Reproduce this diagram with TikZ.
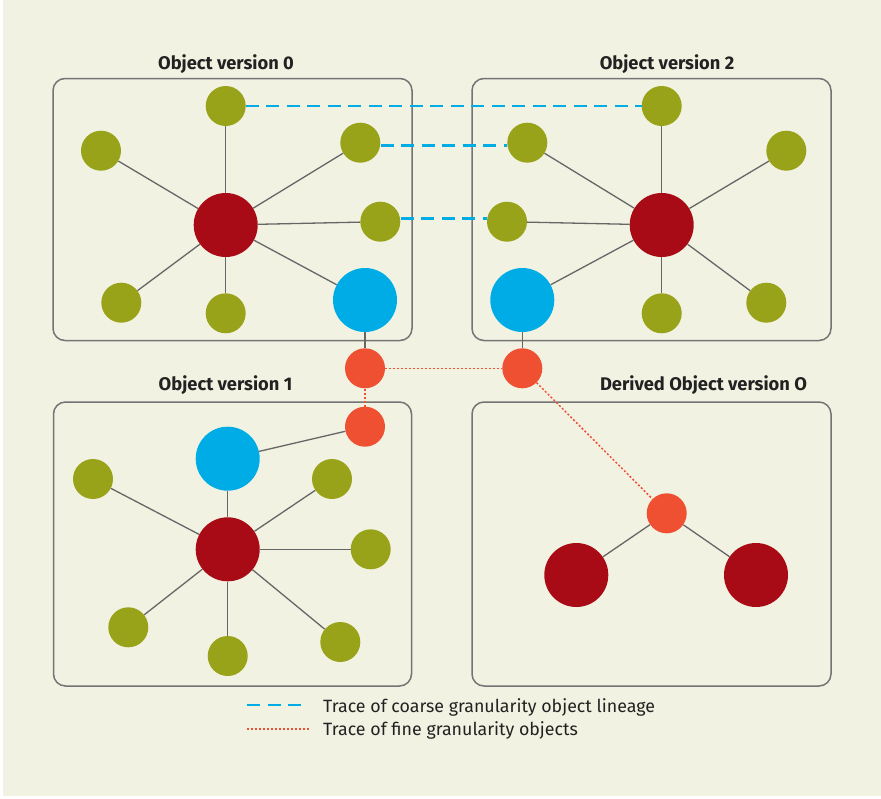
\documentclass[tikz,border=0pt]{standalone}
\usepackage{fontspec}
\setmainfont{Fira Sans}
\usetikzlibrary{calc}
\definecolor{paper}{HTML}{F2F2E3}
\definecolor{olive}{HTML}{98A319}
\definecolor{wine}{HTML}{A90B16}
\definecolor{sky}{HTML}{00ACE5}
\definecolor{tomato}{HTML}{EF5032}
\definecolor{frame}{HTML}{747474}
\definecolor{link}{HTML}{666666}
\definecolor{ink}{HTML}{222222}
\tikzset{
  dot/.style={circle, inner sep=0pt, draw=none},
  leaf/.style={dot, fill=olive, minimum size=40pt},
  hub/.style={dot, fill=wine, minimum size=64pt},
  root/.style={dot, fill=sky, minimum size=64pt},
  grain/.style={dot, fill=tomato, minimum size=40pt},
  panel/.style={draw=frame, line width=1.5pt, rounded corners=12pt, inner sep=0pt},
  title/.style={font=\bfseries\fontsize{18.3}{21}\selectfont, text=ink},
  edge/.style={draw=link, line width=1.3pt},
  coarse/.style={draw=sky, line width=2.6pt, dash pattern=on 13pt off 7.5pt},
  fine/.style={draw=tomato, line width=1.5pt, dash pattern=on 2pt off 2pt},
  legend/.style={font=\fontsize{17.8}{21}\selectfont, text=ink, anchor=west, inner sep=0pt}
}
\begin{document}
\begin{tikzpicture}[x=1pt, y=-1pt]
\useasboundingbox (0,0) rectangle (881,798);
\fill[white] (0,0) rectangle (881,798);
\fill[paper] (3,0) rectangle (881,796);

% panels
\node[panel, minimum width=359pt, minimum height=262pt] (pA) at (232.5,209.5) {};
\node[panel, minimum width=359pt, minimum height=262pt] (pB) at (651.5,209.5) {};
\node[panel, minimum width=358pt, minimum height=284pt] (pC) at (232.5,544) {};
\node[panel, minimum width=359pt, minimum height=284pt] (pD) at (651.5,544) {};

% panel titles
\node[title] (tA) at (226,64) {Object version 0};
\node[title] (tB) at (667,64) {Object version 2};
\node[title] (tC) at (225.5,385) {Object version 1};
\node[title] (tD) at (703.5,385) {Derived Object version O};

% version 0
\node[hub]  (a0) at (225.7,225) {};
\node[leaf] (a1) at (225.7,106) {};
\node[leaf] (a2) at (101,150.7) {};
\node[leaf] (a3) at (360.3,142.7) {};
\node[leaf] (a4) at (380.3,221.7) {};
\node[leaf] (a5) at (121.3,302.7) {};
\node[leaf] (a6) at (225.7,313.3) {};
\node[root] (a7) at (365,300) {};
\foreach \n in {a1,a2,a3,a4,a5,a6,a7} \draw[edge] (a0) -- (\n);

% version 2
\node[hub]  (b0) at (661.7,225) {};
\node[leaf] (b1) at (661.7,106) {};
\node[leaf] (b2) at (786.3,150.7) {};
\node[leaf] (b3) at (527.3,142.7) {};
\node[leaf] (b4) at (507,221.7) {};
\node[leaf] (b5) at (766.3,302.7) {};
\node[leaf] (b6) at (661.7,313.3) {};
\node[root] (b7) at (522.3,300) {};
\foreach \n in {b1,b2,b3,b4,b5,b6,b7} \draw[edge] (b0) -- (\n);

% version 1
\node[hub]  (c0) at (227.7,549.3) {};
\node[root] (c7) at (227.7,458.7) {};
\node[leaf] (c1) at (93,479) {};
\node[leaf] (c2) at (332,479) {};
\node[leaf] (c3) at (370.7,549.3) {};
\node[leaf] (c4) at (128.3,627.3) {};
\node[leaf] (c5) at (227.7,656) {};
\node[leaf] (c6) at (340.3,642) {};
\foreach \n in {c1,c2,c3,c4,c5,c6,c7} \draw[edge] (c0) -- (\n);

% derived version
\node[grain] (d0) at (666.7,513.3) {};
\node[hub]   (d1) at (576.3,575) {};
\node[hub]   (d2) at (756,575) {};
\draw[edge] (d0) -- (d1);
\draw[edge] (d0) -- (d2);

% fine-grained objects
\node[grain] (g1) at (365,368.3) {};
\node[grain] (g2) at (522.3,368.3) {};
\node[grain] (g3) at (365,426.7) {};
\draw[edge] (a7) -- (g1);
\draw[edge] (b7) -- (g2);
\draw[edge] (g3) -- (c7);

% coarse lineage
\draw[coarse] (a1.east) -- (b1.west);
\draw[coarse] ([yshift=-3pt]a3.east) -- ([yshift=-3pt]b3.west);
\draw[coarse] ([yshift=3pt]a4.east) -- ([yshift=3pt]b4.west);

% fine lineage
\draw[fine] (g1) -- (g2);
\draw[fine] (g1) -- (g3);
\draw[fine] (g2) -- (d0);

% legend
\coordinate (lc0) at (247,705);
\coordinate (lc1) at (303,705);
\coordinate (lf0) at (247,729);
\coordinate (lf1) at (309,729);
\draw[coarse] (lc0) -- (lc1);
\draw[fine, line width=1.2pt] (lf0) -- (lf1);
\node[legend] (l1) at (323,707) {Trace of coarse granularity object lineage};
\node[legend] (l2) at (323,730.5) {Trace of fine granularity objects};
\end{tikzpicture}
\end{document}
